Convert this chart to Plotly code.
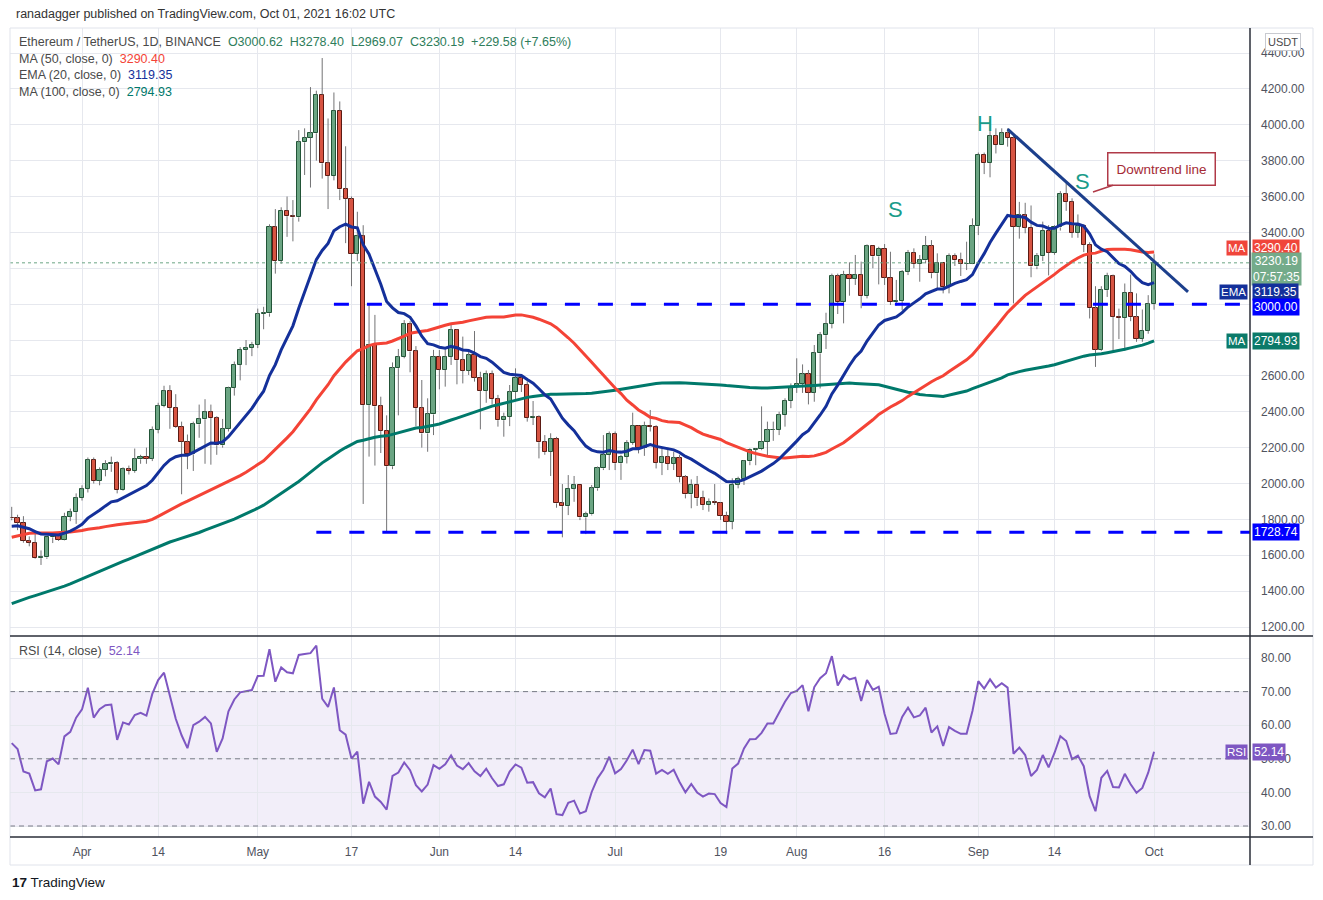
import pandas as pd
import plotly.graph_objects as go

# ETH/USDT daily candles, Binance, 2021-03-20 .. 2021-10-01
dates = pd.date_range('2021-03-20', '2021-10-01', freq='D')

opens = [1810, 1806, 1782, 1680, 1670, 1584, 1588, 1700, 1712, 1687, 1816, 1840,
         1919, 1970, 2133, 2015, 2077, 2107, 2112, 1964, 2079, 2070, 2135, 2150, 2139, 2299, 2432, 2514, 2422, 2317, 2233, 2162, 2330, 2358, 2396, 2365, 2213, 2305, 2534, 2662, 2746, 2757,
         2773, 2945, 2949, 3431, 3241, 3522, 3490, 3484, 3902, 3928, 3952, 4168, 3785, 3715, 4079, 3640, 3587, 3280, 3378, 2437, 2773, 2430, 2295, 2096, 2643, 2706, 2888, 2736, 2420, 2279, 2385,
         2706, 2634, 2707, 2855, 2688, 2629, 2715, 2590, 2517, 2609, 2471, 2353, 2372, 2510, 2589, 2551, 2366, 2371, 2230, 2177, 2250, 1889, 1874, 1972, 1989, 1811, 1828, 1973, 2085, 2159,
         2275, 2113, 2150, 2226, 2322, 2197, 2323, 2317, 2116, 2146, 2110, 2140, 2036, 1940, 1994, 1918, 1880, 1897, 1893, 1820, 1787, 1994, 2025, 2124, 2189, 2191, 2233, 2298, 2299, 2382, 2461,
         2537, 2556, 2608, 2507, 2725, 2827, 2890, 3157, 3012, 3163, 3141, 3164, 3045, 3322, 3266, 3310, 3148, 3012, 3019, 3181, 3286, 3225, 3244, 3325, 3172, 3228, 3096, 3270, 3245, 3225, 3226,
         3434, 3834, 3788, 3937, 3887, 3952, 3927, 3431, 3497, 3427, 3210, 3267, 3410, 3287, 3428, 3614, 3571, 3398, 3434, 3331, 2977, 2747, 3078, 3155, 2930, 2924, 3064, 2928, 2807, 2853,
         3000.62]

highs = [1870, 1826, 1818, 1705, 1740, 1627, 1703, 1728, 1725, 1837, 1860, 1945,
         1990, 2145, 2145, 2090, 2130, 2150, 2125, 2090, 2100, 2195, 2160, 2200, 2318, 2450, 2545, 2548, 2498, 2345, 2273, 2345, 2440, 2470, 2440, 2375, 2360, 2540, 2680, 2760, 2800, 2790,
         2975, 2985, 3445, 3530, 3540, 3600, 3580, 3970, 3980, 4210, 4190, 4372, 4035, 4180, 4130, 3880, 3600, 3515, 3440, 3000, 2940, 2484, 2380, 2675, 2750, 2911, 2905, 2766, 2577, 2475, 2745,
         2744, 2748, 2893, 2860, 2819, 2744, 2850, 2623, 2630, 2630, 2494, 2395, 2549, 2642, 2605, 2570, 2460, 2380, 2270, 2280, 2260, 1997, 2047, 2042, 1992, 1843, 1992, 2095, 2270, 2290,
         2290, 2160, 2242, 2395, 2324, 2345, 2410, 2325, 2195, 2200, 2177, 2160, 2047, 2023, 2042, 1960, 1917, 1997, 1897, 1843, 2029, 2038, 2131, 2196, 2196, 2430, 2345, 2345, 2400, 2475, 2558,
         2698, 2664, 2633, 2772, 2845, 2952, 3170, 3170, 3186, 3233, 3274, 3237, 3333, 3325, 3320, 3335, 3292, 3135, 3190, 3302, 3311, 3274, 3380, 3357, 3283, 3228, 3283, 3283, 3287, 3348, 3478,
         3845, 3845, 4030, 3980, 3980, 3980, 3945, 3570, 3565, 3550, 3285, 3460, 3440, 3440, 3630, 3680, 3590, 3500, 3445, 3345, 3100, 3100, 3175, 3165, 2975, 3115, 3165, 3060, 2970, 3050,
         3278.40]

lows = [1795, 1740, 1670, 1650, 1580, 1546, 1580, 1668, 1680, 1683, 1790, 1775,
        1905, 1950, 2000, 1990, 2040, 2065, 1945, 1960, 2050, 2060, 2110, 2110, 2125, 2280, 2425, 2305, 2310, 1940, 2080, 2070, 2255, 2110, 2105, 2160, 2200, 2290, 2490, 2575, 2660, 2710,
        2755, 2860, 2930, 3170, 3225, 3375, 3350, 3460, 3720, 3650, 3800, 3700, 3530, 3690, 3580, 3340, 3100, 3240, 1886, 2150, 2100, 2170, 1728.74, 2080, 2380, 2698, 2620, 2320, 2200, 2177, 2270,
        2525, 2540, 2661, 2553, 2558, 2605, 2568, 2302, 2450, 2440, 2317, 2261, 2320, 2465, 2510, 2345, 2326, 2140, 2160, 2042, 1865, 1700, 1824, 1898, 1796, 1718, 1822, 1960, 2075, 2075,
        2075, 2020, 2112, 2216, 2168, 2154, 2290, 2084, 2047, 2075, 2075, 2006, 1917, 1862, 1875, 1852, 1843, 1880, 1797, 1718, 1745, 1973, 1992, 2102, 2102, 2186, 2150, 2238, 2270, 2317, 2420,
        2505, 2505, 2441, 2456, 2530, 2750, 2865, 2945, 2893, 3047, 3107, 2977, 3032, 3200, 3110, 3107, 2995, 2992, 2967, 3162, 3200, 3125, 3227, 3144, 3088, 3060, 3060, 3213, 3157, 3190, 3223,
        3385, 3725, 3707, 3840, 3887, 3878, 3004, 3365, 3395, 3150, 3195, 3240, 3160, 3275, 3410, 3520, 3370, 3370, 3290, 2920, 2650, 2740, 3040, 2740, 2805, 2740, 2905, 2790, 2790, 2835,
        2969.07]

closes = [1806, 1782, 1680, 1670, 1584, 1588, 1700, 1712, 1687, 1816, 1840, 1919,
          1970, 2133, 2015, 2077, 2107, 2112, 1964, 2079, 2070, 2135, 2150, 2139, 2299, 2432, 2514, 2422, 2317, 2233, 2162, 2330, 2358, 2396, 2365, 2213, 2305, 2534, 2662, 2746, 2757, 2773,
          2945, 2949, 3431, 3241, 3522, 3490, 3484, 3902, 3928, 3952, 4168, 3785, 3715, 4079, 3640, 3587, 3280, 3378, 2437, 2773, 2430, 2295, 2096, 2643, 2706, 2888, 2736, 2420, 2279, 2385, 2706,
          2634, 2707, 2855, 2688, 2629, 2715, 2590, 2517, 2609, 2471, 2353, 2372, 2510, 2589, 2551, 2366, 2371, 2230, 2177, 2250, 1889, 1874, 1972, 1989, 1811, 1828, 1973, 2085, 2159, 2275,
          2113, 2150, 2226, 2322, 2197, 2323, 2317, 2116, 2146, 2110, 2140, 2036, 1940, 1994, 1918, 1880, 1897, 1893, 1820, 1787, 1994, 2025, 2124, 2189, 2191, 2233, 2298, 2299, 2382, 2461, 2537,
          2556, 2608, 2507, 2725, 2827, 2890, 3157, 3012, 3163, 3141, 3164, 3045, 3322, 3266, 3310, 3148, 3012, 3019, 3181, 3286, 3225, 3244, 3325, 3172, 3228, 3096, 3270, 3245, 3225, 3226, 3434,
          3834, 3788, 3937, 3887, 3952, 3927, 3431, 3497, 3427, 3210, 3267, 3410, 3287, 3428, 3614, 3571, 3398, 3434, 3331, 2977, 2747, 3078, 3155, 2930, 2924, 3064, 2928, 2807, 2853, 3000.62,
          3230.19]

# closes of the 100 days before the window (2020-12-10 .. 2021-03-19), only used to warm up the indicators
prior_closes = [560, 546, 568, 590, 586, 589, 636, 643, 655, 659, 639, 609, 635, 583, 612, 626, 635, 683, 731, 732, 752, 737,
                729, 774, 976, 1041, 1100, 1208, 1225, 1224, 1281, 1262, 1090, 1044, 1130, 1218, 1171, 1233, 1230, 1257, 1377, 1382, 1121, 1236, 1231, 1391, 1324, 1357, 1253, 1332, 1382, 1376, 1314,
                1369, 1515, 1660, 1593, 1720, 1677, 1614, 1746, 1768, 1744, 1783, 1843, 1812, 1800, 1779, 1781, 1848, 1937, 1960, 1919, 1935, 1777, 1570, 1626, 1475, 1446, 1459, 1416,
                1564, 1492, 1575, 1541, 1533, 1654, 1724, 1835, 1868, 1797, 1825, 1764, 1924, 1855, 1792, 1806, 1823, 1781, 1810]

# levels and readouts shown on the chart
support_levels = [3000.00, 1728.74]
support_starts = ['2021-05-14', '2021-05-11']
last_ma50, last_ema20, last_ma100, last_rsi = '3290.40', '3119.35', '2794.93', '52.14'
tick_dates = ['2021-04-01', '2021-04-14', '2021-05-01', '2021-05-17', '2021-06-01', '2021-06-14', '2021-07-01',
              '2021-07-19', '2021-08-01', '2021-08-16', '2021-09-01', '2021-09-14', '2021-10-01']
tick_text = ['Apr', '14', 'May', '17', 'Jun', '14', 'Jul', '19', 'Aug', '16', 'Sep', '14', 'Oct']
price_ticks = list(range(1200, 4401, 200))
hidden_price_ticks = [2800, 3000, 3200]   # covered by the scale tags in the original
rsi_ticks = [30, 40, 50, 60, 70, 80]

# indicators
n_prior = len(prior_closes)
s = pd.Series(prior_closes + closes)
ma50 = s.rolling(50).mean().iloc[n_prior:].values
ma100 = s.rolling(100).mean().iloc[n_prior:].values
ema20 = s.ewm(span=20, adjust=False).mean().iloc[n_prior:].values
delta = s.diff()
up = delta.clip(lower=0).ewm(alpha=1 / 14, adjust=False).mean()
down = (-delta.clip(upper=0)).ewm(alpha=1 / 14, adjust=False).mean()
rsi = (100 - 100 / (1 + up / down)).iloc[n_prior:].values

# page geometry in screenshot pixels; the html body adds an 8px margin
PAGE = 8
W, H = 1323, 900
L_PX, R_PX, T_PX, B_PX, SPLIT_PX = 10, 1250, 28, 837, 636
def px(x):
    return (x - L_PX) / (R_PX - L_PX)
def py(y):
    return (B_PX - y) / (B_PX - T_PX)

FONT = 'Liberation Sans'
GREEN, GREEN_EDGE = '#6ba583', '#225437'
RED, RED_EDGE = '#d75442', '#5b1a13'
MA50_C, EMA20_C, MA100_C, RSI_C = '#f44336', '#14309a', '#00796b', '#7e57c2'
GRID = '#e6e8ee'
X_START, X_END = '2021-03-19 17:00', '2021-10-17 09:00'

fig = go.Figure()

# wicks: above and below each body
wx, wy = [], []
for d, o, h, l, c in zip(dates, opens, highs, lows, closes):
    wx += [d, d, None, d, d, None]
    wy += [h, max(o, c), None, min(o, c), l, None]
fig.add_trace(go.Scatter(x=wx, y=wy, mode='lines', line=dict(color='#737375', width=1),
                         hoverinfo='skip', showlegend=False))

day_ms = 86400000
for rising, fill, edge in [(True, GREEN, GREEN_EDGE), (False, RED, RED_EDGE)]:
    idx = [i for i in range(len(closes)) if (closes[i] >= opens[i]) == rising]
    fig.add_trace(go.Bar(x=[dates[i] for i in idx],
                         y=[abs(closes[i] - opens[i]) for i in idx],
                         base=[min(opens[i], closes[i]) for i in idx],
                         width=0.72 * day_ms,
                         marker=dict(color=fill, line=dict(color=edge, width=1)),
                         showlegend=False))

fig.add_trace(go.Scatter(x=dates, y=ma100, mode='lines', line=dict(color=MA100_C, width=3), showlegend=False))
fig.add_trace(go.Scatter(x=dates, y=ma50, mode='lines', line=dict(color=MA50_C, width=3), showlegend=False))
fig.add_trace(go.Scatter(x=dates, y=ema20, mode='lines', line=dict(color=EMA20_C, width=3), showlegend=False))

fig.add_trace(go.Scatter(x=dates, y=rsi, mode='lines', line=dict(color=RSI_C, width=2),
                         xaxis='x2', yaxis='y2', showlegend=False))

shapes = []
# RSI band and levels
shapes.append(dict(type='rect', xref='paper', yref='y2', x0=0, x1=1, y0=30, y1=70,
                   fillcolor='rgba(126,87,194,0.10)', line=dict(width=0), layer='below'))
for lvl in [70, 50, 30]:
    shapes.append(dict(type='line', xref='paper', yref='y2', x0=0, x1=1, y0=lvl, y1=lvl,
                       line=dict(color='#787b86', width=1, dash='5px,4px')))
# support / resistance levels
for lvl, start in zip(support_levels, support_starts):
    shapes.append(dict(type='line', xref='x', yref='y', x0=start, x1=X_END, y0=lvl, y1=lvl,
                       line=dict(color='#0000ff', width=3, dash='15px,18px')))
# last price dotted line
shapes.append(dict(type='line', xref='paper', yref='y', x0=0, x1=1, y0=closes[-1], y1=closes[-1],
                   line=dict(color='#6ba583', width=1, dash='dot')))
# downtrend line
shapes.append(dict(type='line', xref='x', yref='y', x0='2021-09-06', y0=3976, x1='2021-10-06 19:00', y1=3068,
                   line=dict(color='#1c3f8c', width=3)))
# frame
shapes.append(dict(type='rect', xref='paper', yref='paper', x0=px(10), x1=px(1313), y0=py(865), y1=py(28),
                   line=dict(color='#e0e3eb', width=1)))
for y in [SPLIT_PX, B_PX]:
    shapes.append(dict(type='line', xref='paper', yref='paper', x0=px(10), x1=px(1313), y0=py(y), y1=py(y),
                       line=dict(color='#2a2e39', width=1.5)))
shapes.append(dict(type='line', xref='paper', yref='paper', x0=px(1250), x1=px(1250), y0=py(865), y1=py(28),
                   line=dict(color='#2a2e39', width=1.5)))

ann = []
def text(x, y, t, size=12, color='#131722', anchor='left', **kw):
    ann.append(dict(xref='paper', yref='paper', x=px(x), y=py(y), text=t, showarrow=False,
                    xanchor=anchor, yanchor='middle', font=dict(family=FONT, size=size, color=color), **kw))

sp = '\u00a0'
text(14, 14, 'ranadagger published on TradingView.com, Oct 01, 2021 16:02 UTC', 12.5, '#333333')
ohlc = f"<span style='color:#2e7d5b'>O3000.62{sp*2}H3278.40{sp*2}L2969.07{sp*2}C3230.19{sp*2}+229.58 (+7.65%)</span>"
text(17, 42, f'Ethereum / TetherUS, 1D, BINANCE{sp*2}' + ohlc, 12.5, '#4a4a4a')
text(17, 59, f"MA (50, close, 0){sp*2}<span style='color:{MA50_C}'>{last_ma50}</span>", 12.5, '#4a4a4a')
text(17, 75, f"EMA (20, close, 0){sp*2}<span style='color:{EMA20_C}'>{last_ema20}</span>", 12.5, '#4a4a4a')
text(17, 92, f"MA (100, close, 0){sp*2}<span style='color:{MA100_C}'>{last_ma100}</span>", 12.5, '#4a4a4a')
text(17, 651, f"RSI (14, close){sp*2}<span style='color:{RSI_C}'>{last_rsi}</span>", 12.5, '#4a4a4a')

# pattern letters
text(985, 124, 'H', 22, '#1a9c8a', anchor='center')
text(895, 209, 'S', 22, '#1a9c8a', anchor='center')
text(1082, 181, 'S', 22, '#1a9c8a', anchor='center')

# callout
ann.append(dict(xref='paper', yref='paper', x=px(1093), y=py(192), ax=68, ay=-23,
                text='Downtrend line', showarrow=True, arrowhead=0, arrowwidth=1.5, arrowcolor='#b03a48',
                bordercolor='#b03a48', borderwidth=1.5, borderpad=8, bgcolor='white',
                font=dict(family=FONT, size=13.5, color='#a52a35')))

# price scale tags
def tag(value, label, color, dy=0, ref='y', tag_text=None):
    ann.append(dict(xref='paper', yref=ref, x=px(1252), y=value, yshift=dy, text=label, showarrow=False,
                    xanchor='left', yanchor='middle', bgcolor=color, borderpad=1,
                    font=dict(family=FONT, size=12, color='white')))
    if tag_text:
        ann.append(dict(xref='paper', yref=ref, x=px(1248), y=value, yshift=dy, text=tag_text, showarrow=False,
                        xanchor='right', yanchor='middle', bgcolor=color, borderpad=1,
                        font=dict(family=FONT, size=11.5, color='white')))

tag(float(last_ma50), last_ma50, '#f0453a', dy=4, tag_text='MA')
ann.append(dict(xref='paper', yref='y', x=px(1251), y=closes[-1], yshift=-6,
                text=f'{closes[-1]:.2f}<br>07:57:35', showarrow=False, xanchor='left', yanchor='middle',
                bgcolor='#74ab8a', borderpad=1, align='center',
                font=dict(family=FONT, size=12, color='white')))
tag(float(last_ema20), last_ema20, '#14309a', dy=-9, tag_text='EMA')
tag(support_levels[0], f'{support_levels[0]:.2f}', '#0000ff', dy=-3)
tag(float(last_ma100), last_ma100, '#0b7a69', tag_text='MA')
tag(support_levels[1], f'{support_levels[1]:.2f}', '#0000ff')
tag(float(last_rsi), last_rsi, RSI_C, ref='y2', tag_text='RSI')

# currency box
ann.append(dict(xref='paper', yref='paper', x=px(1283), y=py(42), text='USDT', showarrow=False,
                xanchor='center', yanchor='middle', bgcolor='white', bordercolor='#c8cad0', borderwidth=1,
                borderpad=2, font=dict(family=FONT, size=11, color='#4a4a4a')))
# logo
text(10, 882, "<b>17</b> TradingView", 13.5, '#131722')

price_ticktext = ['' if v in hidden_price_ticks else f'{v:.2f}' for v in price_ticks]
axis_font = dict(family=FONT, size=12, color='#50535e')
fig.update_layout(
    width=W, height=H,
    margin=dict(l=L_PX - PAGE, r=W - (R_PX - PAGE), t=T_PX - PAGE, b=H - (B_PX - PAGE)),
    paper_bgcolor='white', plot_bgcolor='white',
    barmode='overlay', bargap=0,
    shapes=shapes, annotations=ann,
    xaxis=dict(type='date', range=[X_START, X_END], anchor='y',
               tickvals=tick_dates, ticktext=tick_text, showticklabels=False,
               showgrid=True, gridcolor=GRID, zeroline=False),
    xaxis2=dict(type='date', range=[X_START, X_END], anchor='y2', matches='x',
                tickvals=tick_dates, ticktext=tick_text, ticks='', ticklabelstandoff=6,
                tickfont=axis_font, showgrid=True, gridcolor=GRID, zeroline=False),
    yaxis=dict(domain=[py(SPLIT_PX), 1], range=[1149.9, 4539.4], side='right',
               tickvals=price_ticks, ticktext=price_ticktext, ticks='', ticklabelstandoff=10,
               tickfont=axis_font, showgrid=True, gridcolor=GRID, zeroline=False),
    yaxis2=dict(domain=[0, py(SPLIT_PX)], range=[26.73, 86.55], side='right',
                tickvals=rsi_ticks, tickformat='.2f', ticks='', ticklabelstandoff=10,
                tickfont=axis_font, showgrid=True, gridcolor=GRID, zeroline=False),
)

fig.write_html('out.html')
